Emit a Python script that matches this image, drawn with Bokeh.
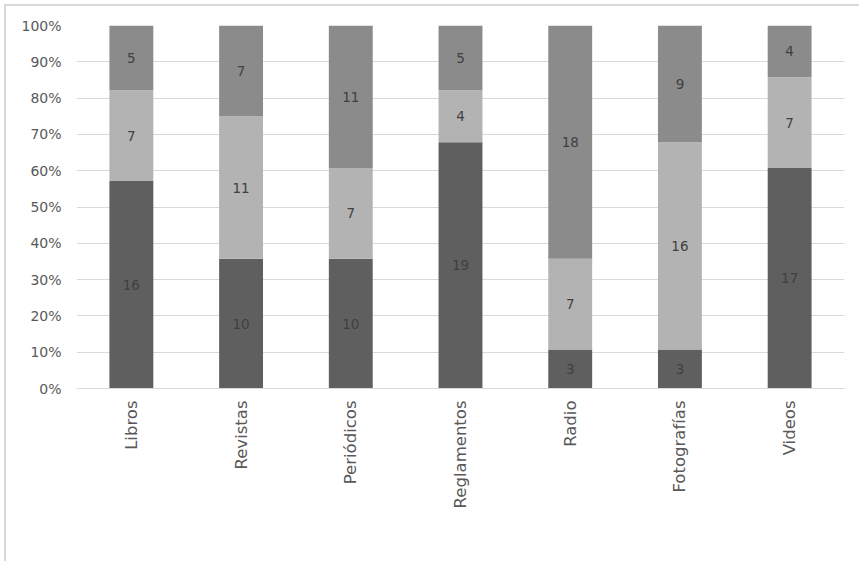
import numpy as np
from bokeh.plotting import figure
from bokeh.models import (ColumnDataSource, FixedTicker, NumeralTickFormatter,
                          Legend, LegendItem, LabelSet)
from bokeh.core.properties import value
from bokeh.embed import file_html
from bokeh.resources import INLINE

# Survey counts per medium (28 answers each)
categories = ["Libros", "Revistas", "Periódicos", "Reglamentos", "Radio",
              "Fotografías", "Videos"]
series = ["Frecuentemente", "Pocas vece", "Nunca"]
frecuentemente = [16, 10, 10, 19, 3, 3, 17]
pocas_veces = [7, 11, 7, 4, 7, 16, 7]
nunca = [5, 7, 11, 5, 18, 9, 4]
y_ticks = [0.0, 0.1, 0.2, 0.3, 0.4, 0.5, 0.6, 0.7, 0.8, 0.9, 1.0]

colors = ["#5f5f5f", "#b3b3b3", "#8b8b8b"]
FONT = "DejaVu Sans"

counts = np.array([frecuentemente, pocas_veces, nunca], dtype=float)
totals = counts.sum(axis=0)
shares = counts / totals

data = {"cat": categories}
for key, row in zip(["f", "p", "n"], shares):
    data[key] = row
source = ColumnDataSource(data)

p = figure(x_range=categories, y_range=(0, 1),
           width=853, height=553,
           frame_width=768, frame_height=363,
           output_backend="svg", toolbar_location=None,
           min_border_left=70, min_border_right=15,
           min_border_top=19, min_border_bottom=0)
p.margin = (4, 0, 0, 4)
p.styles = {"border-top": "2px solid #d9d9d9", "border-left": "2px solid #d9d9d9"}
p.outline_line_color = None
p.background_fill_color = "white"
p.border_fill_color = "white"

renderers = p.vbar_stack(["f", "p", "n"], x="cat", width=0.4, color=colors,
                         line_color=None, source=source)

# Segment labels showing the raw counts, centred in each segment
bottoms = np.vstack([np.zeros(len(categories)), np.cumsum(shares, axis=0)[:-1]])
mids = bottoms + shares / 2
lab_x, lab_y, lab_t = [], [], []
for i in range(3):
    for j, c in enumerate(categories):
        lab_x.append(c)
        lab_y.append(mids[i, j])
        lab_t.append(str(int(counts[i, j])))
lab_src = ColumnDataSource(dict(x=lab_x, y=lab_y, t=lab_t))
labels = LabelSet(x="x", y="y", text="t", source=lab_src,
                  text_align="center", text_baseline="middle",
                  text_font=value(FONT), text_font_size=value("13.5px"),
                  text_color="#404040")
p.add_layout(labels)

# Axes
p.yaxis.ticker = FixedTicker(ticks=y_ticks)
p.yaxis.formatter = NumeralTickFormatter(format="0%")
p.yaxis.axis_line_color = None
p.yaxis.major_tick_line_color = None
p.yaxis.minor_tick_line_color = None
p.yaxis.major_tick_out = 0
p.yaxis.major_tick_in = 0
p.yaxis.major_label_standoff = 15
p.yaxis.major_label_text_font = FONT
p.yaxis.major_label_text_font_size = "14px"
p.yaxis.major_label_text_color = "#595959"

p.xaxis.axis_line_color = "#d9d9d9"
p.xaxis.major_tick_line_color = None
p.xaxis.major_tick_out = 0
p.xaxis.major_tick_in = 0
p.xaxis.major_label_standoff = 12
p.xaxis.major_label_orientation = np.pi / 2
p.xaxis.major_label_text_font = FONT
p.xaxis.major_label_text_font_size = "16.5px"
p.xaxis.major_label_text_color = "#595959"

p.xgrid.grid_line_color = None
p.ygrid.grid_line_color = "#d9d9d9"
p.ygrid.grid_line_width = 1

legend = Legend(items=[LegendItem(label=s, renderers=[r])
                       for s, r in zip(series, renderers)],
                orientation="horizontal", location="center",
                label_text_font=FONT, label_text_font_size="17.5px",
                label_text_color="#595959", glyph_width=11, glyph_height=11,
                label_standoff=10, spacing=28, padding=0, margin=0,
                border_line_color=None, background_fill_alpha=0)
p.add_layout(legend, "below")

open("out.html", "w").write(file_html(p, INLINE))
